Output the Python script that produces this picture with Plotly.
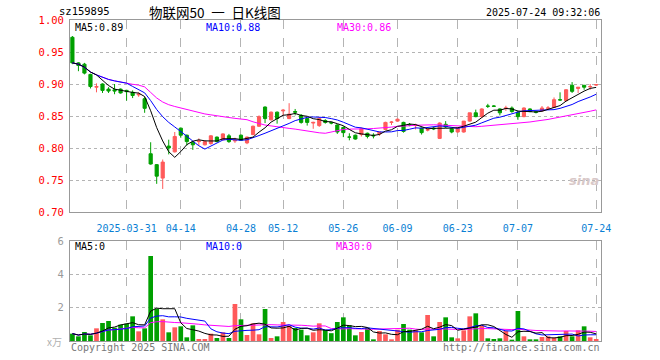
import plotly.graph_objects as go
import pandas as pd

# ---------------- data ----------------
dates = [
    "2025-03-18", "2025-03-19", "2025-03-20", "2025-03-21", "2025-03-24", "2025-03-25", "2025-03-26",
    "2025-03-27", "2025-03-28", "2025-03-31", "2025-04-01", "2025-04-02", "2025-04-03", "2025-04-07",
    "2025-04-08", "2025-04-09", "2025-04-10", "2025-04-11", "2025-04-14", "2025-04-15", "2025-04-16",
    "2025-04-17", "2025-04-18", "2025-04-21", "2025-04-22", "2025-04-23", "2025-04-24", "2025-04-25",
    "2025-04-28", "2025-04-29", "2025-04-30", "2025-05-06", "2025-05-07", "2025-05-08", "2025-05-09",
    "2025-05-12", "2025-05-13", "2025-05-14", "2025-05-15", "2025-05-16", "2025-05-19", "2025-05-20",
    "2025-05-21", "2025-05-22", "2025-05-23", "2025-05-26", "2025-05-27", "2025-05-28", "2025-05-29",
    "2025-05-30", "2025-06-03", "2025-06-04", "2025-06-05", "2025-06-06", "2025-06-09", "2025-06-10",
    "2025-06-11", "2025-06-12", "2025-06-13", "2025-06-16", "2025-06-17", "2025-06-18", "2025-06-19",
    "2025-06-20", "2025-06-23", "2025-06-24", "2025-06-25", "2025-06-26", "2025-06-27", "2025-06-30",
    "2025-07-01", "2025-07-02", "2025-07-03", "2025-07-04", "2025-07-07", "2025-07-08", "2025-07-09",
    "2025-07-10", "2025-07-11", "2025-07-14", "2025-07-15", "2025-07-16", "2025-07-17", "2025-07-18",
    "2025-07-21", "2025-07-22", "2025-07-23", "2025-07-24",
]

open_ = [0.973, 0.933, 0.931, 0.915, 0.895, 0.900, 0.892, 0.891, 0.892, 0.890,
         0.887, 0.883, 0.877, 0.791, 0.774, 0.753, 0.803, 0.794, 0.831, 0.820,
         0.809, 0.810, 0.805, 0.807, 0.817, 0.813, 0.819, 0.811, 0.820, 0.808,
         0.821, 0.834, 0.864, 0.844, 0.856, 0.858, 0.846, 0.857, 0.851, 0.846,
         0.839, 0.835, 0.843, 0.840, 0.836, 0.832, 0.8172, 0.820, 0.821, 0.823,
         0.820, 0.822, 0.829, 0.840, 0.842, 0.840, 0.8365, 0.835, 0.831, 0.828,
         0.831, 0.815, 0.837, 0.830, 0.825, 0.825, 0.842, 0.855, 0.849, 0.8656,
         0.8656, 0.861, 0.862, 0.8625, 0.856, 0.849, 0.861, 0.8565, 0.858, 0.8622,
         0.8635, 0.8755, 0.874, 0.898, 0.893, 0.898, 0.8956, 0.8984]
high = [0.975, 0.934, 0.933, 0.916, 0.901, 0.901, 0.895, 0.900, 0.893, 0.891,
        0.890, 0.887, 0.880, 0.809, 0.775, 0.782, 0.813, 0.825, 0.832, 0.821,
        0.811, 0.815, 0.812, 0.820, 0.818, 0.823, 0.822, 0.816, 0.821, 0.818,
        0.835, 0.851, 0.865, 0.857, 0.857, 0.861, 0.870, 0.861, 0.853, 0.847,
        0.841, 0.848, 0.845, 0.841, 0.837, 0.834, 0.823, 0.821, 0.832, 0.824,
        0.823, 0.825, 0.841, 0.842, 0.846, 0.841, 0.839, 0.838, 0.832, 0.831,
        0.833, 0.840, 0.842, 0.831, 0.832, 0.842, 0.855, 0.860, 0.862, 0.869,
        0.867, 0.862, 0.866, 0.865, 0.857, 0.8635, 0.862, 0.857, 0.8656, 0.8656,
        0.879, 0.887, 0.892, 0.903, 0.895, 0.898, 0.900, 0.8995]
low = [0.931, 0.920, 0.915, 0.893, 0.887, 0.886, 0.886, 0.884, 0.885, 0.874,
       0.878, 0.880, 0.855, 0.774, 0.744, 0.736, 0.790, 0.793, 0.816, 0.804,
       0.797, 0.804, 0.804, 0.805, 0.809, 0.812, 0.808, 0.808, 0.811, 0.806,
       0.820, 0.833, 0.839, 0.843, 0.838, 0.851, 0.845, 0.851, 0.838, 0.835,
       0.830, 0.833, 0.838, 0.837, 0.822, 0.817, 0.812, 0.813, 0.818, 0.815,
       0.815, 0.819, 0.828, 0.836, 0.841, 0.824, 0.834, 0.829, 0.821, 0.826,
       0.828, 0.814, 0.831, 0.823, 0.824, 0.824, 0.841, 0.848, 0.847, 0.8625,
       0.864, 0.851, 0.858, 0.855, 0.844, 0.848, 0.856, 0.854, 0.857, 0.8594,
       0.863, 0.8739, 0.873, 0.886, 0.886, 0.891, 0.891, 0.897]
close = [0.933, 0.929, 0.917, 0.896, 0.896, 0.890, 0.889, 0.889, 0.886, 0.888,
         0.882, 0.884, 0.862, 0.775, 0.756, 0.778, 0.800, 0.818, 0.820, 0.810,
         0.805, 0.811, 0.810, 0.819, 0.810, 0.822, 0.810, 0.812, 0.812, 0.817,
         0.834, 0.849, 0.846, 0.856, 0.846, 0.859, 0.853, 0.856, 0.840, 0.840,
         0.840, 0.846, 0.840, 0.839, 0.825, 0.824, 0.817, 0.814, 0.830, 0.818,
         0.819, 0.825, 0.840, 0.8405, 0.845, 0.826, 0.836, 0.8355, 0.824, 0.8285,
         0.830, 0.839, 0.833, 0.825, 0.831, 0.842, 0.855, 0.849, 0.861, 0.8652,
         0.8652, 0.855, 0.8625, 0.857, 0.849, 0.8625, 0.857, 0.856, 0.8625, 0.8625,
         0.8755, 0.875, 0.891, 0.8885, 0.895, 0.895, 0.896, 0.899]
volume = [0.44, 0.28, 0.54, 0.34, 0.76, 1.08, 1.20, 0.80, 0.98, 1.04,
          1.48, 0.58, 0.76, 5.10, 1.94, 1.30, 0.52, 0.82, 0.88, 0.22,
          0.94, 0.12, 0.12, 0.44, 0.18, 0.52, 0.18, 2.22, 1.30, 0.36,
          1.06, 0.40, 1.92, 0.18, 0.28, 1.14, 0.90, 0.78, 0.68, 0.34,
          0.52, 1.06, 0.66, 0.47, 1.14, 1.42, 0.94, 0.34, 0.54, 0.80,
          0.10, 0.60, 0.40, 0.10, 0.68, 1.02, 0.68, 0.64, 0.52, 1.56,
          0.28, 1.14, 1.42, 0.22, 0.16, 0.64, 1.48, 1.66, 0.92, 0.16,
          0.12, 0.16, 0.60, 0.08, 1.80, 0.28, 0.10, 0.10, 0.24, 0.28,
          0.20, 0.28, 0.60, 0.28, 0.64, 0.88, 0.22, 0.12]

tick_dates = ["2025-03-31", "2025-04-14", "2025-04-28", "2025-05-12", "2025-05-26",
              "2025-06-09", "2025-06-23", "2025-07-07", "2025-07-24"]
tick_labels = ["2025-03-31", "04-14", "04-28", "05-12", "05-26", "06-09", "06-23", "07-07", "07-24"]
price_ticks = [0.70, 0.75, 0.80, 0.85, 0.90, 0.95, 1.00]
vol_ticks = [2, 4, 6]

# ---------------- derived ----------------
cs = pd.Series(close)
vs = pd.Series(volume)
ma = {n: cs.rolling(n, min_periods=1).mean() for n in (5, 10, 30)}
vma = {n: vs.rolling(n, min_periods=1).mean() for n in (5, 10, 30)}

RED = "#ff5a5a"
GREEN = "#00a000"
ma_colors = {5: "#000000", 10: "#0000ff", 30: "#ff00ff"}
vol_colors = [RED if c >= o else GREEN for o, c in zip(open_, close)]

fig = go.Figure()
fig.add_trace(go.Candlestick(
    x=dates, open=open_, high=high, low=low, close=close,
    increasing=dict(line=dict(color=RED, width=1), fillcolor=RED),
    decreasing=dict(line=dict(color=GREEN, width=1), fillcolor=GREEN),
    xaxis="x", yaxis="y", showlegend=False, hoverinfo="skip",
))
for n in (30, 10, 5):
    fig.add_trace(go.Scatter(x=dates, y=ma[n], mode="lines",
                             line=dict(color=ma_colors[n], width=1),
                             xaxis="x", yaxis="y", showlegend=False, hoverinfo="skip"))
fig.add_trace(go.Bar(x=dates, y=volume, marker=dict(color=vol_colors, line=dict(width=0)),
                     width=0.78, xaxis="x2", yaxis="y2", showlegend=False, hoverinfo="skip"))
for n in (30, 10, 5):
    fig.add_trace(go.Scatter(x=dates, y=vma[n], mode="lines",
                             line=dict(color=ma_colors[n], width=1),
                             xaxis="x2", yaxis="y2", showlegend=False, hoverinfo="skip"))

# pixel helpers for the 660x360 canvas
L, R, T, B = 70, 601, 20, 341
def px(x):
    return (x - L) / (R - L)
def py(y):
    return (B - y) / (B - T)

MONO = "DejaVu Sans Mono"
GRID = "#b4b4b4"
BORDER = "#999999"
xrange_ = [-0.4, len(dates) - 0.2]

fig.update_layout(
    width=660, height=360,
    margin=dict(l=L, r=660 - R, t=T, b=360 - B),
    paper_bgcolor="white", plot_bgcolor="white",
    boxgap=0.25, bargap=0.2,
    showlegend=False,
    xaxis=dict(type="category", domain=[0, 1], anchor="y", range=xrange_,
               tickmode="array", tickvals=tick_dates, ticktext=tick_labels,
               tickfont=dict(family=MONO, size=10, color="#0a7fd4"),
               ticks="", ticklabelstandoff=7,
               showgrid=True, gridcolor=GRID, griddash="dash", gridwidth=1,
               showline=True, mirror=True, linecolor=BORDER, linewidth=1,
               rangeslider=dict(visible=False), zeroline=False, fixedrange=True),
    yaxis=dict(domain=[py(212), 1], anchor="x", range=[0.70, 1.00],
               tickmode="array", tickvals=price_ticks,
               ticktext=[f"{v:.2f}" for v in price_ticks],
               tickfont=dict(family=MONO, size=10.5, color="#ff0000"),
               ticks="", ticklabelstandoff=3,
               showgrid=True, gridcolor=GRID, griddash="dot", gridwidth=1,
               showline=True, mirror=True, linecolor=BORDER, linewidth=1,
               zeroline=False, fixedrange=True),
    xaxis2=dict(type="category", domain=[0, 1], anchor="y2", matches="x", range=xrange_,
                tickmode="array", tickvals=tick_dates, showticklabels=False, ticks="",
                showgrid=True, gridcolor=GRID, griddash="dash", gridwidth=1,
                showline=True, mirror=True, linecolor=BORDER, linewidth=1,
                zeroline=False, fixedrange=True),
    yaxis2=dict(domain=[0, py(241)], anchor="x2", range=[0, 6],
                tickmode="array", tickvals=vol_ticks, ticktext=[str(v) for v in vol_ticks],
                tickfont=dict(family=MONO, size=10.5, color="#999999"),
                ticks="", ticklabelstandoff=3,
                showgrid=True, gridcolor=GRID, griddash="dot", gridwidth=1,
                showline=True, mirror=True, linecolor=BORDER, linewidth=1,
                zeroline=False, fixedrange=True),
)

def note(text, x, y, color="#000000", size=10, family=MONO, anchor="left", pad=1):
    fig.add_annotation(text=text, x=px(x), y=py(y), xref="paper", yref="paper",
                       xanchor=anchor, yanchor="middle", showarrow=False, borderpad=pad,
                       font=dict(family=family, size=size, color=color))

note("sz159895", 58, 11, size=10.5, pad=0)
note("物联网50\u2002一\u2002日K线图", 215, 12, size=13.5, family="Noto Sans CJK SC", anchor="center")
note("2025-07-24 09:32:06", 602, 12, size=10, anchor="right")

note(f"MA5:{ma[5].iloc[-1]:.2f}", 73, 27, color=ma_colors[5])
note(f"MA10:{ma[10].iloc[-1]:.2f}", 204, 27, color=ma_colors[10])
note(f"MA30:{ma[30].iloc[-1]:.2f}", 335, 27, color=ma_colors[30])

note(f"MA5:{int(vma[5].iloc[-1])}", 73, 246, color=ma_colors[5])
note(f"MA10:{int(vma[10].iloc[-1])}", 204, 246, color=ma_colors[10])
note(f"MA30:{int(vma[30].iloc[-1])}", 334, 246, color=ma_colors[30])

note("x万", 64, 342, color="#b0b0b0", size=10, family="Noto Sans CJK SC", anchor="right")
note("Copyright 2025 SINA.COM", 69, 348, color="#777777", size=10)
note("http://finance.sina.com.cn", 602, 348, color="#777777", size=10, anchor="right")
note("<b><i>sina</i></b>", 584, 180, color="#d8c8c8", size=13, family="DejaVu Sans", anchor="center")

fig.write_html("out.html", config={"displayModeBar": False, "staticPlot": True},
               post_script="document.body.style.margin='0';document.body.style.overflow='hidden';")
